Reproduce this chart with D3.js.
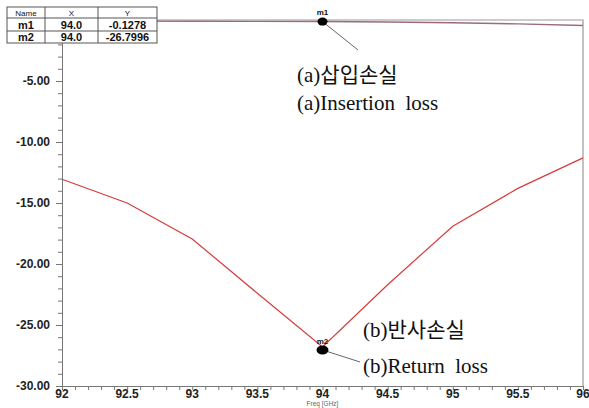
<!DOCTYPE html>
<html>
<head>
<meta charset="utf-8">
<script src="https://cdn.jsdelivr.net/npm/d3@7"></script>
<style>
  body { margin: 0; background: #fff; }
  svg { display: block; }
</style>
</head>
<body>
<div id="root"></div>
<script>
// frequency points (GHz)
var freq = [92, 92.5, 93, 93.5, 94, 94.5, 95, 95.5, 96];
// (a) insertion loss, dB
var insertionLoss = [-0.08, -0.09, -0.10, -0.11, -0.1278, -0.16, -0.22, -0.32, -0.45];
// (b) return loss, dB
var returnLoss = [-13.05, -15.0, -17.95, -22.4, -26.7996, -21.7, -16.9, -13.8, -11.3];
var xTicks = [92, 92.5, 93, 93.5, 94, 94.5, 95, 95.5, 96];
var yTicks = [-5, -10, -15, -20, -25, -30];
var markerNames = ['m1', 'm2'];
var markerX = [94.0, 94.0];
var markerY = [-0.1278, -26.7996];

var W = 589, H = 408;
var svg = d3.select('#root')
  .append('svg')
    .attr('width', W)
    .attr('height', H);

var x = d3.scaleLinear().domain([92, 96]).range([62, 583]);
var y = d3.scaleLinear().domain([-30, 0]).range([386, 20]);

// plot frame
svg.append('path')
  .attr('d', 'M' + x(92) + ',' + y(0) + 'H' + x(96) + 'V' + y(-30))
  .attr('fill', 'none')
  .attr('stroke', '#9a9a9a')
  .attr('stroke-width', 1.2);

// x axis with minor ticks
var xAxis = svg.append('g').attr('transform', 'translate(0,' + y(-30) + ')');
xAxis.call(d3.axisBottom(x).tickValues(d3.range(92, 96.001, 0.1)).tickSize(4).tickFormat(''));
xAxis.call(g => g.select('.domain').attr('stroke', '#777'));
xAxis.selectAll('.tick line').attr('stroke', '#777');
xAxis.selectAll('.lbl')
  .data(xTicks)
  .enter()
  .append('text')
    .attr('x', d => x(d))
    .attr('y', 12)
    .attr('text-anchor', 'middle')
    .attr('font-family', 'Arial, Liberation Sans, sans-serif')
    .attr('font-weight', 'bold')
    .attr('font-size', 12)
    .attr('fill', '#222')
    .text(d => d);

svg.append('text')
  .attr('x', x(94))
  .attr('y', 406)
  .attr('text-anchor', 'middle')
  .attr('font-family', 'Arial, Liberation Sans, sans-serif')
  .attr('font-size', 6.5)
  .attr('fill', '#666')
  .text('Freq [GHz]');

// y axis with minor ticks
var yAxis = svg.append('g').attr('transform', 'translate(' + x(92) + ',0)');
yAxis.call(d3.axisLeft(y).tickValues(d3.range(-30, 0.001, 1)).tickSize(4).tickFormat(''));
yAxis.call(g => g.select('.domain').attr('stroke', '#777'));
yAxis.selectAll('.tick line').attr('stroke', '#777');
yAxis.selectAll('.tick').filter(d => d % 5 === 0).select('line').attr('x2', -6);
yAxis.selectAll('.lbl')
  .data(yTicks)
  .enter()
  .append('text')
    .attr('x', -12)
    .attr('y', d => y(d) + 4)
    .attr('text-anchor', 'end')
    .attr('font-family', 'Arial, Liberation Sans, sans-serif')
    .attr('font-weight', 'bold')
    .attr('font-size', 12)
    .attr('fill', '#222')
    .text(d => d.toFixed(2));

var line = d3.line()
  .x((d, i) => x(freq[i]))
  .y(d => y(d));

svg.append('path')
  .attr('d', line(insertionLoss))
  .attr('fill', 'none')
  .attr('stroke', '#9b6a7c')
  .attr('stroke-width', 1.4);

svg.append('path')
  .attr('d', line(returnLoss))
  .attr('fill', 'none')
  .attr('stroke', '#d63b3b')
  .attr('stroke-width', 1.2);

// markers
var leaders = [[358, 50], [360, 362]];
markerNames.forEach((m, i) => {
  var cx = x(markerX[i]), cy = y(markerY[i]) + (i ? 3 : 0);
  svg.append('line')
    .attr('x1', cx).attr('y1', cy)
    .attr('x2', leaders[i][0]).attr('y2', leaders[i][1])
    .attr('stroke', '#666')
    .attr('stroke-width', 1);
  svg.append('ellipse')
    .attr('cx', cx).attr('cy', cy)
    .attr('rx', i ? 6 : 5).attr('ry', i ? 4.5 : 4)
    .attr('fill', '#000');
  svg.append('text')
    .attr('x', cx)
    .attr('y', cy - (i ? 6 : 6.5))
    .attr('text-anchor', 'middle')
    .attr('font-family', 'Arial, Liberation Sans, sans-serif')
    .attr('font-weight', 'bold')
    .attr('font-size', 8)
    .attr('fill', '#111')
    .text(m);
});

// marker table
var cols = [7, 45, 98, 157];
var rows = [7, 18, 31, 43];
var table = svg.append('g');
table.append('rect')
  .attr('x', cols[0]).attr('y', rows[0])
  .attr('width', cols[3] - cols[0]).attr('height', rows[3] - rows[0])
  .attr('fill', '#fff').attr('stroke', '#555');
cols.slice(1, 3).forEach(c => table.append('line')
  .attr('x1', c).attr('x2', c).attr('y1', rows[0]).attr('y2', rows[3]).attr('stroke', '#555'));
rows.slice(1, 3).forEach(r => table.append('line')
  .attr('x1', cols[0]).attr('x2', cols[3]).attr('y1', r).attr('y2', r).attr('stroke', '#555'));
var cells = [['Name', 'X', 'Y']].concat(markerNames.map((m, i) => [m, markerX[i].toFixed(1), String(markerY[i])]));
cells.forEach((row, r) => row.forEach((t, c) => {
  table.append('text')
    .attr('x', (cols[c] + cols[c + 1]) / 2)
    .attr('y', (rows[r] + rows[r + 1]) / 2 + (r ? 4 : 3))
    .attr('text-anchor', 'middle')
    .attr('font-family', 'Arial, Liberation Sans, sans-serif')
    .attr('font-weight', r ? 'bold' : 'normal')
    .attr('font-size', r ? 11 : 8)
    .attr('fill', '#111')
    .text(t);
}));

// annotations
var notes = [
  ['(a)삽입손실', 297, 82],
  ['(a)Insertion  loss', 297, 110],
  ['(b)반사손실', 363, 337],
  ['(b)Return  loss', 363, 373]
];
notes.forEach(n => {
  svg.append('text')
    .attr('x', n[1]).attr('y', n[2])
    .attr('font-family', '"Liberation Serif", "Noto Sans CJK KR", serif')
    .attr('font-size', 21)
    .attr('fill', '#111')
    .attr('xml:space', 'preserve')
    .style('white-space', 'pre')
    .text(n[0]);
});
</script>
</body>
</html>
